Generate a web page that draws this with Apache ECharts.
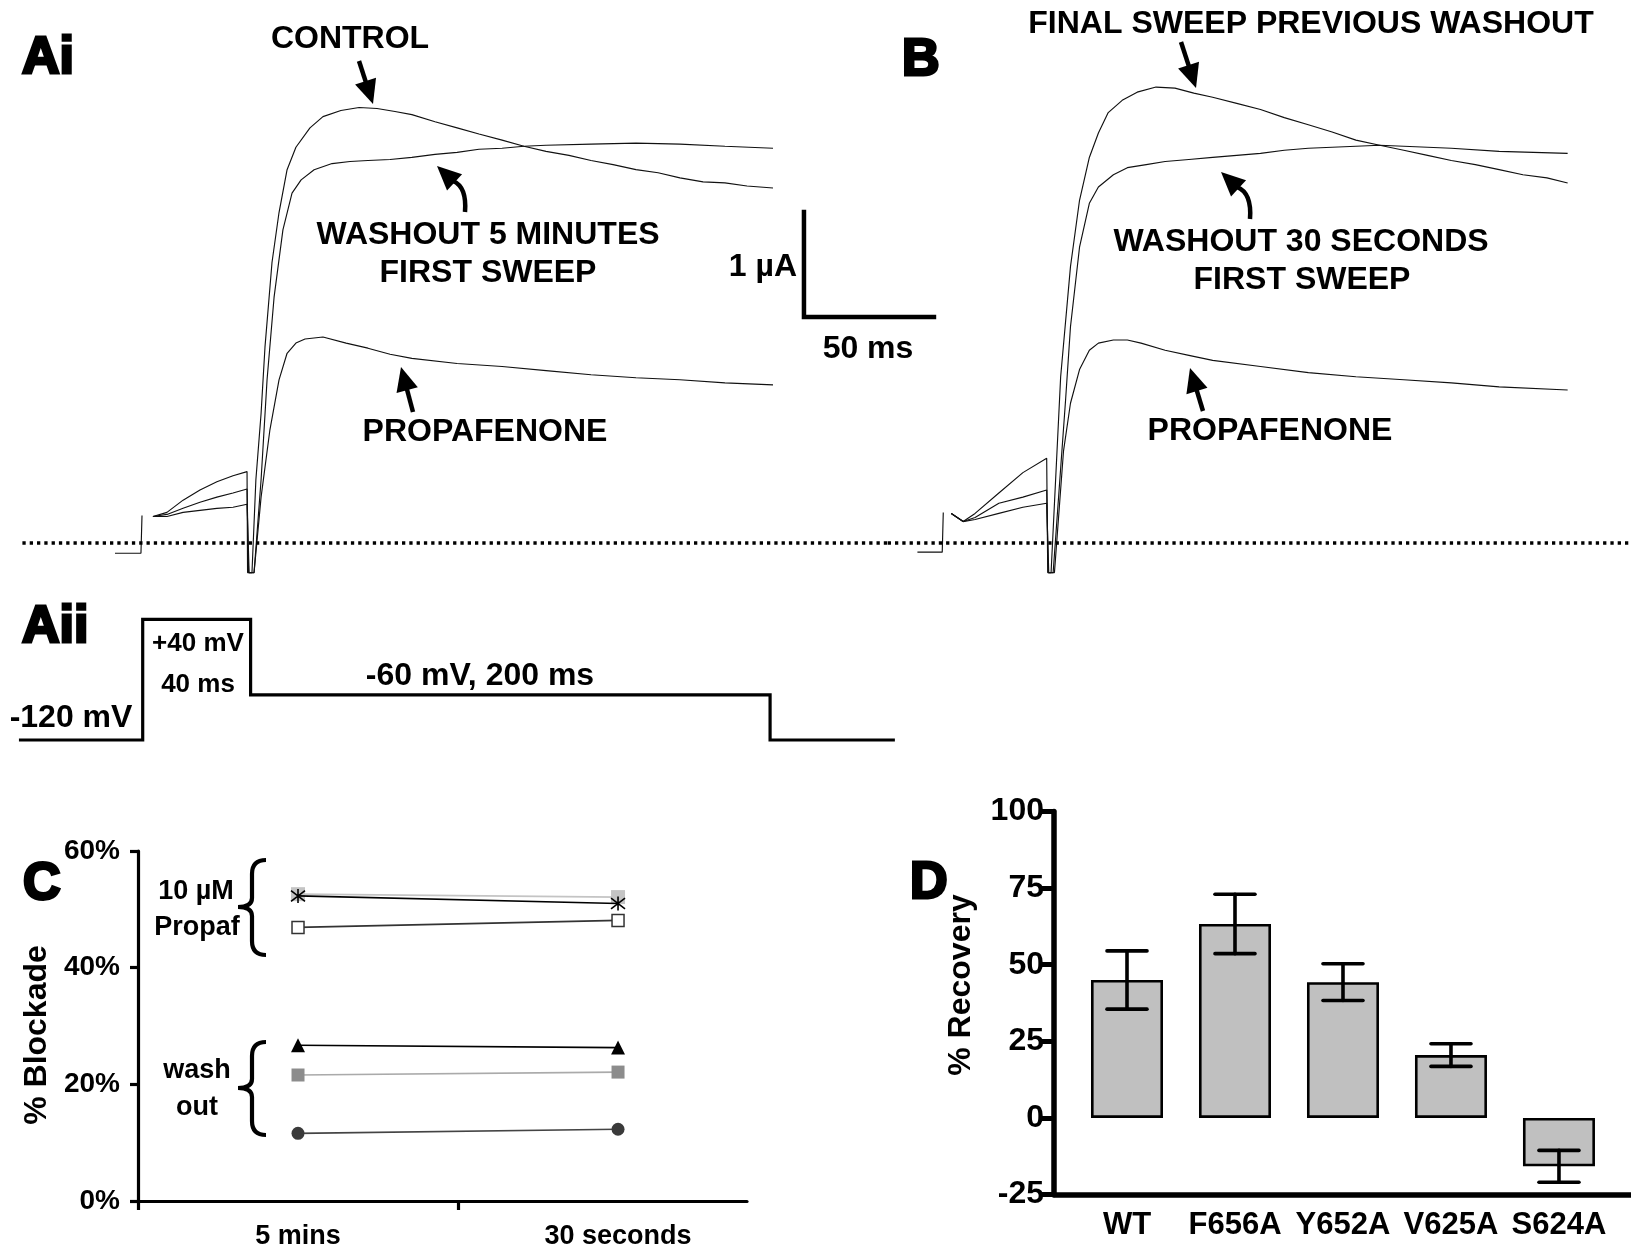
<!DOCTYPE html>
<html><head><meta charset="utf-8">
<script src="https://cdn.jsdelivr.net/npm/echarts@6/dist/echarts.min.js"></script>
<style>html,body{margin:0;padding:0;background:#fff}#c{width:1631px;height:1258px}</style>
</head><body><div id="c"></div>
<script>
// ---------- DATA (time in ms, current in µA, voltage in mV) ----------
const aiHold = [[-10.4,-0.10],[-0.4,-0.10],[0,-0.09],[0,0.27]];
const aiControl = [[4.2,0.26],[9.6,0.30],[15.8,0.42],[22.3,0.52],[28.8,0.60],[35.0,0.66],[40.4,0.70],[40.6,-0.29],[42.3,-0.29],[43.8,0.62],[45.8,1.27],[47.3,1.92],[50.0,2.75],[52.7,3.24],[55.8,3.66],[59.2,3.88],[64.6,4.07],[69.6,4.18],[76.5,4.24],[83.5,4.27],[90.4,4.26],[97.3,4.23],[103.8,4.20],[112.7,4.13],[121.2,4.07],[129.6,4.01],[138.5,3.95],[146.9,3.89],[155.4,3.84],[164.2,3.80],[172.7,3.75],[181.2,3.71],[190.0,3.66],[198.5,3.63],[206.9,3.58],[215.8,3.54],[224.2,3.53],[232.7,3.50],[242.7,3.48]];
const aiWash = [[4.2,0.26],[9.6,0.28],[15.8,0.34],[22.3,0.40],[28.8,0.45],[35.0,0.49],[40.4,0.53],[41.0,-0.29],[43.1,-0.29],[45.8,0.62],[48.1,1.60],[50.8,2.41],[54.2,3.07],[57.7,3.43],[61.2,3.56],[66.2,3.66],[73.1,3.72],[80.0,3.74],[86.9,3.75],[95.4,3.76],[103.8,3.78],[112.7,3.81],[121.2,3.83],[129.6,3.86],[138.5,3.87],[146.9,3.89],[155.4,3.90],[172.7,3.91],[190.0,3.92],[206.9,3.91],[224.2,3.89],[242.7,3.87]];
const aiProp = [[4.2,0.26],[9.6,0.26],[15.8,0.30],[22.3,0.32],[28.8,0.34],[35.0,0.35],[40.4,0.38],[41.2,-0.29],[43.1,-0.29],[45.8,0.45],[49.2,1.11],[52.7,1.60],[55.8,1.86],[59.2,1.96],[62.7,2.00],[69.6,2.02],[78.5,1.96],[86.9,1.91],[95.4,1.85],[103.8,1.81],[121.2,1.76],[138.5,1.73],[155.4,1.69],[172.7,1.65],[190.0,1.62],[206.9,1.60],[224.2,1.57],[242.7,1.55]];
const aiBaseline = [[-46,0],[287,0]];
const aiScaleBar = [[254.6,3.245],[254.6,2.216],[304.6,2.216]];

const bHold = [[-10.0,-0.09],[-0.4,-0.09],[0,-0.09],[0,0.30]];
const bControl = [[3.1,0.29],[7.7,0.21],[12.3,0.29],[21.5,0.49],[30.8,0.69],[40.0,0.83],[40.4,-0.29],[41.7,-0.29],[45.4,1.63],[49.2,2.71],[52.7,3.36],[56.5,3.78],[60.0,4.02],[63.8,4.22],[69.2,4.34],[75.0,4.42],[82.3,4.47],[89.6,4.46],[96.9,4.41],[104.2,4.37],[113.5,4.31],[122.7,4.25],[131.9,4.17],[141.2,4.10],[150.4,4.03],[159.6,3.95],[168.8,3.90],[178.1,3.85],[187.3,3.80],[196.5,3.75],[205.8,3.71],[215.0,3.66],[224.2,3.61],[233.5,3.58],[241.5,3.53]];
const bWash = [[3.1,0.29],[7.7,0.21],[12.3,0.25],[21.5,0.39],[30.8,0.45],[40.0,0.52],[40.6,-0.29],[42.5,-0.29],[47.3,1.40],[49.2,2.12],[52.7,2.90],[56.5,3.33],[60.0,3.49],[65.8,3.61],[71.2,3.68],[78.5,3.71],[85.8,3.74],[95.0,3.76],[104.2,3.78],[113.5,3.80],[122.7,3.82],[131.9,3.85],[141.2,3.87],[150.4,3.88],[159.6,3.89],[168.8,3.90],[178.1,3.89],[187.3,3.88],[196.5,3.87],[215.0,3.84],[241.5,3.82]];
const bProp = [[3.1,0.29],[7.7,0.21],[12.3,0.23],[21.5,0.29],[30.8,0.35],[40.0,0.39],[40.8,-0.29],[43.0,-0.29],[46.5,0.90],[49.2,1.37],[52.7,1.70],[56.5,1.89],[60.0,1.96],[65.8,1.99],[71.2,1.99],[76.5,1.96],[85.8,1.89],[95.0,1.84],[104.2,1.79],[122.7,1.73],[141.2,1.67],[159.6,1.63],[178.1,1.60],[196.5,1.57],[215.0,1.53],[241.5,1.50]];
const bBaseline = [[-21.5,0],[265,0]];

const protocolAii = [[-47.6,-120],[0,-120],[0,40],[41.5,40],[41.5,-60],[241.3,-60],[241.3,-120],[289.3,-120]];

const cCategories = ['5 mins','30 seconds'];
const cLightSq = [52.6, 52.1];
const cStar    = [52.3, 51.0];
const cOpenSq  = [46.9, 48.1];
const cTri     = [26.7, 26.3];
const cGraySq  = [21.6, 22.1];
const cCircle  = [11.6, 12.3];

const dCategories = ['WT','F656A','Y652A','V625A','S624A'];
const dMeans = [45.0, 63.3, 44.3, 20.5, -15.8];
const dSem   = [9.5, 9.7, 6.0, 3.7, 5.2];

// ---------- CHART ----------
const FONT = '"Liberation Sans", Arial, Helvetica, sans-serif';
const chart = echarts.init(document.getElementById('c'), null, {renderer:'canvas'});

const xy = arr => arr.map((v,i)=>[i+0.5, v]);
const traceStyle = {color:'#111', width:1.15};
function trace(data, grid){ return {type:'line', data, xAxisIndex:grid, yAxisIndex:grid, showSymbol:false, symbol:'none', lineStyle:traceStyle, silent:true}; }

const series = [];
// Ai
[aiHold, aiControl, aiWash, aiProp].forEach(d=>series.push(trace(d,0)));
series.push({type:'line', data:aiBaseline, xAxisIndex:0, yAxisIndex:0, symbol:'none', lineStyle:{color:'#000', width:3.3, type:[3.3,4]}, silent:true});
series.push({type:'line', data:aiScaleBar, xAxisIndex:0, yAxisIndex:0, symbol:'none', lineStyle:{color:'#000', width:4.5, join:'miter', cap:'square'}, silent:true});
// B
[bHold, bControl, bWash, bProp].forEach(d=>series.push(trace(d,1)));
series.push({type:'line', data:bBaseline, xAxisIndex:1, yAxisIndex:1, symbol:'none', lineStyle:{color:'#000', width:3.3, type:[3.3,4]}, silent:true});
// Aii
series.push({type:'line', data:protocolAii, xAxisIndex:2, yAxisIndex:2, symbol:'none', lineStyle:{color:'#000', width:3.2, join:'miter'}, silent:true});

// C
function cSeries(vals, symbol, size, item, lineColor, z){
  return {type:'line', data:xy(vals), xAxisIndex:3, yAxisIndex:3, symbol, symbolSize:size, showSymbol:true,
    itemStyle:item, lineStyle:{color:lineColor, width:1.6}, z: z||2, silent:true};
}
series.push(cSeries(cLightSq,'rect',14,{color:'#c4c4c4'},'#c4c4c4',2));
series.push(cSeries(cStar,'path://M0,0L10,10M10,0L0,10M5,-1.5L5,11.5',14,{color:'rgba(0,0,0,0)', borderColor:'#000', borderWidth:1.6},'#000',3));
series.push(cSeries(cOpenSq,'rect',12,{color:'#fff', borderColor:'#333', borderWidth:1.5},'#333',2));
series.push(cSeries(cTri,'triangle',14,{color:'#000'},'#000',2));
series.push(cSeries(cGraySq,'rect',13,{color:'#8c8c8c'},'#aaaaaa',2));
series.push(cSeries(cCircle,'circle',13,{color:'#3a3a3a'},'#444',2));

// D
series.push({type:'bar', data:dMeans.map((v,i)=>[i,v]), xAxisIndex:4, yAxisIndex:4, barWidth:72,
  itemStyle:{color:'#c0c0c0', borderColor:'#000', borderWidth:2.6}, silent:true, z:2});
series.push({type:'custom', xAxisIndex:4, yAxisIndex:4, z:5, silent:true,
  data:dMeans.map((v,i)=>[i, v-dSem[i], v+dSem[i]]),
  encode:{x:0, y:[1,2]},
  renderItem:(params, api)=>{
    const x = api.value(0), lo = api.coord([x, api.value(1)]), hi = api.coord([x, api.value(2)]);
    const hw = 20, st = {stroke:'#000', lineWidth:3.6, lineCap:'round'};
    return {type:'group', children:[
      {type:'line', shape:{x1:lo[0],y1:lo[1],x2:hi[0],y2:hi[1]}, style:st},
      {type:'line', shape:{x1:lo[0]-hw,y1:lo[1],x2:lo[0]+hw,y2:lo[1]}, style:st},
      {type:'line', shape:{x1:hi[0]-hw,y1:hi[1],x2:hi[0]+hw,y2:hi[1]}, style:st}
    ]};
  }});

const hidden = {show:false};
const axisTxt = (size)=>({color:'#000', fontFamily:FONT, fontWeight:'bold', fontSize:size});

// ---------- annotations ----------
const graphics = [];
function txt(text, x, y, size, align, extra){
  graphics.push({type:'text', x, y, z:10, style:Object.assign({text, fill:'#000', font:'bold '+size+'px '+FONT,
    textAlign:align||'center', textVerticalAlign:'middle'}, extra||{})});
}
function panel(text, x, y){ txt(text, x, y, 52, 'left', {stroke:'#000', lineWidth:3}); }
function head(tx, ty, fx, fy, len, hw){
  const dx = tx-fx, dy = ty-fy, L = Math.hypot(dx,dy), ux = dx/L, uy = dy/L;
  const bx = tx-ux*len, by = ty-uy*len;
  graphics.push({type:'polygon', z:10, shape:{points:[[tx,ty],[bx-uy*hw, by+ux*hw],[bx+uy*hw, by-ux*hw]]}, style:{fill:'#000'}});
  return [bx+ux*2, by+uy*2];
}
function seg(x1,y1,x2,y2,w){ graphics.push({type:'line', z:10, shape:{x1,y1,x2,y2}, style:{stroke:'#000', lineWidth:w}}); }
function bez(x1,y1,cx,cy,x2,y2,w){ graphics.push({type:'bezierCurve', z:10, shape:{x1,y1,cpx1:cx,cpy1:cy,x2,y2}, style:{stroke:'#000', lineWidth:w, fill:null}}); }
function arrow(fx, fy, tx, ty){
  const b = head(tx, ty, fx, fy, 24, 11);
  seg(fx, fy, b[0], b[1], 4.5);
}
function curved(sx, sy, cx, cy, ex, ey, tx, ty){
  const b = head(tx, ty, ex, ey, 24, 11);
  bez(sx, sy, cx, cy, b[0], b[1], 4.5);
}
function brace(x, top, mid, bot){
  const r = 14, w = 30, v = x+w-r, lw = 4.2;
  bez(x+w, top, v, top, v, top+r, lw);
  seg(v, top+r, v, mid-9, lw);
  bez(v, mid-9, v, mid, x+2, mid, lw);
  bez(x+2, mid, v, mid, v, mid+9, lw);
  seg(v, mid+9, v, bot-r, lw);
  bez(v, bot-r, v, bot, x+w, bot, lw);
}

panel('Ai', 22, 59); panel('B', 902, 61); panel('Aii', 22, 628); panel('C', 23, 885); panel('D', 910, 884);

txt('CONTROL', 350, 39, 32);
arrow(359, 61, 373, 104);
txt('WASHOUT 5 MINUTES', 488, 235, 32);
txt('FIRST SWEEP', 488, 273, 32);
curved(465, 212, 467, 187, 452, 180, 437, 166);
txt('PROPAFENONE', 485, 432, 32);
arrow(413, 412, 401, 367);
txt('1 µA', 797, 267, 32, 'right');
txt('50 ms', 868, 349, 32);

txt('FINAL SWEEP PREVIOUS WASHOUT', 1311, 24, 32);
arrow(1181, 42, 1196, 88);
txt('WASHOUT 30 SECONDS', 1301, 242, 32);
txt('FIRST SWEEP', 1302, 280, 32);
curved(1250, 219, 1252, 193, 1236, 186, 1221, 172);
txt('PROPAFENONE', 1270, 431, 32);
arrow(1203, 411, 1190, 368);

txt('-120 mV', 71, 718, 32);
txt('+40 mV', 198, 644, 26);
txt('40 ms', 198, 685, 26);
txt('-60 mV, 200 ms', 480, 676, 32);

txt('10 µM', 196, 892, 27);
txt('Propaf', 197, 928, 27);
txt('wash', 197, 1071, 27);
txt('out', 197, 1108, 27);
brace(236, 860, 907, 955);
brace(236, 1042, 1088, 1135);
graphics.push({type:'text', x:37, y:1035, rotation:Math.PI/2, z:10, style:{text:'% Blockade', fill:'#000', font:'bold 32px '+FONT, textAlign:'center', textVerticalAlign:'middle'}});
graphics.push({type:'text', x:961, y:985, rotation:Math.PI/2, z:10, style:{text:'% Recovery', fill:'#000', font:'bold 32px '+FONT, textAlign:'center', textVerticalAlign:'middle'}});

const option = {
  animation:false,
  backgroundColor:'#fff',
  grid:[
    {left:12, top:33, width:962, height:612},
    {left:814, top:33, width:821.6, height:612},
    {left:12.7, top:604.3, width:910, height:150.8},
    {left:138, top:851, width:609, height:350},
    {left:1054, top:811.5, width:577, height:383}
  ],
  xAxis:[
    {gridIndex:0, type:'value', min:-50, max:320, show:false},
    {gridIndex:1, type:'value', min:-50, max:266, show:false},
    {gridIndex:2, type:'value', min:-50, max:300, show:false},
    {gridIndex:3, type:'value', min:0, max:1.903, splitLine:hidden,
      axisLine:{onZero:false, lineStyle:{color:'#000', width:3.2}},
      axisTick:{customValues:[0,1], length:9, lineStyle:{color:'#000', width:3.2}},
      axisLabel:Object.assign(axisTxt(27),{customValues:[0.5,1.5], margin:22, formatter:v=>cCategories[Math.round(v-0.5)]})},
    {gridIndex:4, type:'value', min:-0.676, max:4.667, splitLine:hidden,
      axisLine:{onZero:false, lineStyle:{color:'#000', width:5.5}},
      axisTick:hidden,
      axisLabel:Object.assign(axisTxt(31),{customValues:[0,1,2,3,4], margin:15, formatter:v=>dCategories[Math.round(v)]})}
  ],
  yAxis:[
    {gridIndex:0, type:'value', min:-1, max:5, show:false},
    {gridIndex:1, type:'value', min:-1, max:5, show:false},
    {gridIndex:2, type:'value', min:-140, max:60, show:false},
    {gridIndex:3, type:'value', min:0, max:60, interval:20, splitLine:hidden,
      axisLine:{show:true, onZero:false, lineStyle:{color:'#000', width:3.2}},
      axisTick:{show:true, length:8, lineStyle:{color:'#000', width:3.2}},
      axisLabel:Object.assign(axisTxt(28),{margin:18, formatter:v=>v+'%'})},
    {gridIndex:4, type:'value', min:-25, max:100, interval:25, splitLine:hidden,
      axisLine:{show:true, onZero:false, lineStyle:{color:'#000', width:5.5}},
      axisTick:{show:true, length:12, lineStyle:{color:'#000', width:5}},
      axisLabel:Object.assign(axisTxt(32),{margin:10})}
  ],
  series,
  graphic:graphics
};
chart.setOption(option);
</script></body></html>
